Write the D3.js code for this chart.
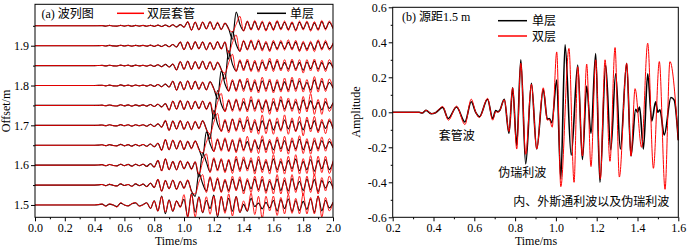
<!DOCTYPE html>
<html>
<head>
<meta charset="utf-8">
<script src="https://cdn.jsdelivr.net/npm/d3@7"></script>
<style>
  body { margin: 0; background: #fff; }
  svg text { font-family: "Liberation Serif", "Times New Roman", "Noto Sans CJK SC", serif; fill: #000; }
</style>
</head>
<body>
<div id="chart"></div>
<script>
// ---- panel (a): wave train, one trace per offset ----
var offsets = [1.5, 1.55, 1.6, 1.65, 1.7, 1.75, 1.8, 1.85, 1.9, 1.95];

// sample times (ms) shared by every trace in panel (a)
var timesA = [0, 0.400, 0.425, 0.450, 0.475, 0.500, 0.525, 0.550, 0.575, 0.600, 0.625, 0.650, 0.675, 0.700,
  0.725, 0.750, 0.775, 0.800, 0.825, 0.850, 0.875, 0.900, 0.925, 0.950, 0.975, 1.000, 1.025,
  1.050, 1.075, 1.100, 1.125, 1.150, 1.175, 1.200, 1.225, 1.250, 1.275, 1.300, 1.325, 1.350,
  1.375, 1.400, 1.425, 1.450, 1.475, 1.500, 1.525, 1.550, 1.575, 1.600, 1.625, 1.650, 1.675,
  1.700, 1.725, 1.750, 1.775, 1.800, 1.825, 1.850, 1.875, 1.900, 1.925, 1.950, 1.975, 2.000];

// single casing (black), amplitude per sample, one row per offset
var singleA = [
  [0, 0, .01, .03, -.035, .03, 0, -.055, .06, 0, -.03, .04, .07, -.035,
   .01, .075, -.12, .14, -.2, .3, -.29, .17, -.21, .13, -.06, .19, -.38,
   .38, -.24, .27, -.26, .15, -.12, .33, -.4, .27, -.21, .22, -.21, .28,
   -.25, .02, -.21, .22, -.05, .06, -.13, .085, -.1, .15, -.2, .18, -.12,
   .2, -.22, .14, -.18, .12, -.15, .2, -.25, .3, -.2, .15, -.1, .08],
  [0, 0, .005, .02, -.02, .025, -.01, -.03, .04, -.015, .02, -.04, .04, -.02,
   .03, -.05, .06, -.08, .18, -.2, .15, -.12, .16, -.14, .12, -.1, .15,
   -.2, -.38, .4, .05, -.2, .25, -.18, .2, -.22, .15, -.18, .2, -.15,
   .18, -.2, .15, -.12, .2, -.15, .18, -.2, .12, -.15, .2, -.18, .15,
   -.2, .22, -.15, .12, -.18, .2, -.15, .18, -.22, .15, -.1, .12, -.08],
  [0, 0, .005, .015, -.02, .02, -.01, -.025, .03, -.02, .025, -.035, .03, -.02,
   .03, -.04, .05, -.06, .15, -.18, .2, -.15, .12, -.15, .14, -.12, .1,
   -.12, .1, -.4, .42, .1, -.22, .2, -.15, .18, -.2, .15, -.18, .2,
   -.15, .18, -.12, .15, -.2, .18, -.15, .12, -.18, .2, -.15, .12, -.18,
   .15, -.12, .2, -.18, .12, -.15, .18, -.2, .15, -.12, .18, -.15, .1],
  [0, 0, .004, .015, -.015, .02, -.01, -.02, .03, -.02, .02, -.03, .025, -.02,
   .025, -.035, .04, -.05, .06, -.16, .18, -.15, .16, -.12, .15, -.14, .12,
   -.1, .14, -.12, -.42, .45, .05, -.2, .18, -.15, .2, -.18, .15, -.2,
   .18, -.15, .12, -.18, .15, -.12, .18, -.15, .12, -.15, .18, -.12, .15,
   -.18, .15, -.12, .2, -.15, .12, -.18, .15, -.12, .15, -.1, .12, -.08],
  [0, 0, .004, .012, -.015, .018, -.01, -.02, .025, -.015, .02, -.025, .02, -.015,
   .02, -.03, .035, -.04, .05, -.06, .15, -.16, .14, -.12, .15, -.13, .12,
   -.14, .12, -.1, .15, -.12, -.45, .5, .05, -.18, .15, -.18, .2, -.15,
   .15, -.12, .18, -.15, .12, -.18, .15, -.12, .18, -.15, .12, -.15, .18,
   -.12, .15, -.18, .12, -.15, .18, -.12, .15, -.18, .12, -.1, .15, -.1],
  [0, 0, .003, .01, -.012, .015, -.01, -.018, .022, -.015, .018, -.022, .018, -.015,
   .018, -.025, .03, -.035, .04, -.05, .06, -.15, .14, -.12, .15, -.13, .14,
   -.12, .13, -.1, .14, -.12, .1, -.45, .5, .05, -.18, .15, -.15, .18,
   -.15, .12, -.15, .18, -.12, .15, -.12, .15, -.18, .12, -.15, .18, -.12,
   .15, -.12, .12, -.15, .18, -.12, .15, -.12, .1, -.15, .12, -.1, .08],
  [0, 0, .003, .01, -.012, .015, -.01, -.015, .02, -.012, .015, -.02, .018, -.012,
   .015, -.02, .025, -.03, .035, -.04, .045, -.05, .14, -.15, .12, -.14, .15,
   -.12, .14, -.12, .1, -.14, .12, -.1, -.45, .5, .05, -.18, .15, -.15,
   .18, -.12, .15, -.15, .12, -.18, .15, -.12, .15, -.18, .12, -.15, .12,
   -.15, .18, -.12, .15, -.12, .1, -.15, .18, -.12, .15, -.12, .1, -.08],
  [0, 0, .003, .008, -.01, .012, -.008, -.012, .018, -.01, .014, -.018, .015, -.01,
   .012, -.018, .022, -.025, .03, -.035, .04, -.045, .05, -.14, .13, -.12, .14,
   -.12, .13, -.1, .14, -.12, .12, -.14, .1, -.12, -.45, .5, .05, -.18,
   .15, -.12, .15, -.15, .12, -.15, .12, -.1, .15, -.12, .15, -.12, .1,
   -.12, .15, -.12, .1, -.15, .12, -.1, .15, -.12, .1, -.12, .1, -.06],
  [0, 0, .002, .008, -.01, .012, -.008, -.012, .015, -.01, .012, -.015, .012, -.01,
   .012, -.015, .018, -.02, .025, -.028, .032, -.035, .04, -.045, .12, -.13, .12,
   -.12, .13, -.1, .12, -.13, .1, -.12, .13, -.1, .12, -.45, .48, .05,
   -.18, .15, -.12, .15, -.12, .15, -.12, .1, -.15, .12, -.1, .12, -.1,
   .12, -.1, .12, -.15, .1, -.12, .1, -.12, .15, -.1, .12, -.1, .06],
  [0, 0, .002, .007, -.01, .012, -.008, -.01, .014, -.01, .012, -.014, .012, -.01,
   .012, -.014, .016, -.018, .022, -.025, .028, -.03, .035, -.038, .04, -.045, .13,
   -.14, .12, -.13, .12, -.1, .13, -.12, .1, -.12, .08, -.1, -.45, .46,
   .05, -.16, .14, -.12, .14, -.12, .12, -.14, .1, -.12, .14, -.1, .12,
   -.12, .1, -.14, .12, -.1, .12, -.14, .1, -.12, .14, -.1, .12, -.08]
];

// double casing (red)
var doubleA = [
  [0, 0, .012, .033, -.045, .035, 0, -.07, .075, 0, -.03, .045, .08, -.045,
   .005, .072, -.11, .14, -.21, .28, -.24, .16, -.21, .14, -.085, .345, -.425,
   .365, -.4, .26, -.25, .275, -.31, .3, -.35, .3, -.28, .37, -.37, .28,
   -.25, .135, -.2, .395, -.32, .29, -.44, .29, -.2, .3, -.35, .25, -.3,
   .35, -.28, .22, -.3, .38, -.3, .25, -.3, .3, -.4, .25, -.2, .1],
  [0, 0, .005, .02, -.025, .03, -.01, -.035, .045, -.015, .02, -.045, .045, -.02,
   .035, -.055, .07, -.09, .2, -.21, .16, -.13, .17, -.15, .13, -.12, .18,
   -.22, -.3, .1, .35, -.25, .28, -.22, .25, -.25, .2, -.25, .3, -.2,
   .28, -.3, .22, -.25, .3, -.22, .3, -.28, .2, -.3, .35, -.3, .25,
   -.32, .35, -.25, .3, -.35, .3, -.25, .35, -.3, .25, -.2, .3, -.15],
  [0, 0, .005, .015, -.02, .025, -.01, -.03, .035, -.02, .025, -.04, .035, -.02,
   .035, -.045, .05, -.07, .17, -.2, .22, -.16, .13, -.16, .15, -.13, .12,
   -.15, .12, -.3, .1, .38, -.25, .25, -.2, .22, -.25, .2, -.28, .3,
   -.22, .28, -.2, .25, -.3, .3, -.25, .2, -.3, .35, -.25, .22, -.3,
   .3, -.22, .35, -.3, .22, -.28, .32, -.35, .3, -.25, .3, -.28, .15],
  [0, 0, .004, .015, -.018, .022, -.01, -.025, .032, -.02, .022, -.035, .03, -.02,
   .03, -.04, .045, -.055, .07, -.18, .2, -.16, .18, -.13, .16, -.15, .14,
   -.12, .15, -.15, -.25, .1, .38, -.22, .22, -.2, .25, -.22, .2, -.25,
   .25, -.2, .3, -.25, .2, -.28, .32, -.25, .2, -.3, .28, -.22, .3,
   -.3, .25, -.2, .32, -.28, .22, -.3, .25, -.2, .28, -.2, .22, -.1],
  [0, 0, .004, .012, -.016, .02, -.01, -.022, .028, -.015, .022, -.028, .022, -.015,
   .022, -.032, .038, -.045, .055, -.065, .17, -.18, .15, -.13, .16, -.14, .13,
   -.15, .14, -.12, .16, -.14, -.28, .1, .4, -.22, .2, -.25, .22, -.2,
   .25, -.22, .3, -.25, .2, -.3, .35, -.28, .22, -.3, .25, -.2, .35,
   -.3, .25, -.22, .3, -.35, .28, -.22, .3, -.25, .2, -.28, .22, -.12],
  [0, 0, .003, .01, -.013, .016, -.01, -.02, .024, -.015, .02, -.024, .02, -.015,
   .02, -.027, .033, -.038, .045, -.055, .065, -.17, .15, -.13, .17, -.14, .15,
   -.13, .15, -.12, .15, -.14, .12, -.3, .1, .4, -.22, .2, -.2, .22,
   -.2, .25, -.22, .3, -.2, .22, -.25, .2, -.3, .25, -.22, .3, -.2,
   .25, -.2, .22, -.28, .3, -.22, .4, -.3, .2, -.3, .25, -.2, .1],
  [0, 0, .003, .01, -.013, .016, -.01, -.016, .022, -.012, .016, -.022, .02, -.012,
   .016, -.022, .027, -.032, .038, -.045, .05, -.055, .15, -.16, .13, -.15, .16,
   -.13, .15, -.13, .12, -.15, .13, -.12, -.28, .1, .4, -.2, .2, -.2,
   .22, -.2, .25, -.22, .2, -.25, .28, -.2, .22, -.25, .2, -.22, .25,
   -.22, .28, -.2, .25, -.22, .2, -.25, .3, -.22, .25, -.2, .22, -.1],
  [0, 0, .003, .008, -.011, .013, -.008, -.013, .02, -.01, .015, -.02, .016, -.01,
   .013, -.02, .024, -.027, .033, -.038, .043, -.05, .055, -.15, .14, -.13, .15,
   -.13, .14, -.12, .15, -.13, .14, -.15, .12, -.14, -.25, .1, .38, -.2,
   .2, -.18, .22, -.2, .18, -.22, .2, -.18, .25, -.2, .22, -.18, .2,
   -.2, .22, -.18, .2, -.25, .2, -.18, .22, -.2, .18, -.2, .2, -.1],
  [0, 0, .002, .008, -.011, .013, -.008, -.013, .016, -.01, .013, -.016, .013, -.01,
   .013, -.016, .02, -.022, .027, -.03, .035, -.038, .043, -.05, .13, -.14, .13,
   -.13, .14, -.11, .13, -.14, .12, -.13, .14, -.12, .13, -.25, .1, .36,
   -.2, .18, -.15, .2, -.15, .2, -.18, .15, -.2, .18, -.15, .18, -.15,
   .2, -.15, .18, -.2, .15, -.18, .15, -.2, .2, -.15, .18, -.15, .1],
  [0, 0, .002, .007, -.011, .013, -.008, -.011, .015, -.01, .013, -.015, .013, -.01,
   .013, -.015, .018, -.02, .024, -.027, .03, -.033, .038, -.04, .043, -.05, .14,
   -.15, .13, -.14, .13, -.11, .14, -.13, .12, -.13, .1, -.12, -.2, .05,
   .32, -.18, .16, -.15, .18, -.15, .16, -.18, .14, -.16, .18, -.14, .16,
   -.16, .14, -.18, .16, -.14, .16, -.18, .14, -.16, .18, -.14, .16, -.1]
];

// ---- panel (b): waveform at 1.5 m source distance, [time ms, amplitude] ----
var singleB = [[0.2, 0], [0.33, 0], [0.345, -0.004], [0.363, 0.011], [0.39, -0.008], [0.41, -0.002],
  [0.445, 0.028], [0.472, -0.035], [0.513, 0.03], [0.554, -0.055], [0.585, 0.06], [0.607, 0.0],
  [0.625, -0.025], [0.665, 0.075], [0.69, -0.035], [0.705, 0.01], [0.715, 0.003], [0.725, 0.012],
  [0.747, 0.075], [0.770, -0.12], [0.788, 0.14], [0.808, -0.19], [0.828, 0.30], [0.852, -0.295],
  [0.880, 0.165], [0.906, -0.21], [0.938, 0.13], [0.958, -0.04], [0.968, -0.035], [0.98, -0.06],
  [1.004, 0.185], [1.024, -0.38], [1.045, 0.385], [1.075, -0.245], [1.107, 0.27], [1.13, -0.27],
  [1.151, 0.15], [1.172, -0.12], [1.195, 0.335], [1.216, -0.40], [1.244, 0.27], [1.269, -0.215],
  [1.293, 0.22], [1.316, -0.21], [1.347, 0.28], [1.368, -0.25], [1.391, 0.017], [1.40, 0.0],
  [1.41, 0.03], [1.429, -0.21], [1.45, 0.22], [1.47, -0.05], [1.489, 0.06], [1.50, 0.0],
  [1.51, 0.015], [1.531, -0.13], [1.564, 0.085], [1.58, 0.07], [1.6, -0.16]];

var doubleB = [[0.2, 0], [0.33, 0], [0.345, -0.004], [0.363, 0.012], [0.39, -0.008], [0.41, -0.002],
  [0.445, 0.033], [0.473, -0.045], [0.513, 0.035], [0.554, -0.07], [0.585, 0.075], [0.607, 0.0],
  [0.625, -0.03], [0.665, 0.08], [0.69, -0.045], [0.705, 0.005], [0.715, 0.0], [0.725, 0.01],
  [0.747, 0.072], [0.770, -0.11], [0.788, 0.14], [0.808, -0.21], [0.828, 0.28], [0.852, -0.24],
  [0.880, 0.16], [0.906, -0.21], [0.938, 0.14], [0.958, -0.045], [0.968, -0.04], [0.982, -0.085],
  [1.004, 0.345], [1.024, -0.425], [1.064, 0.365], [1.089, -0.40], [1.107, 0.26], [1.13, -0.25],
  [1.151, 0.275], [1.172, -0.31], [1.195, 0.30], [1.218, -0.38], [1.241, 0.30], [1.265, -0.28],
  [1.29, 0.37], [1.311, -0.37], [1.347, 0.28], [1.368, -0.25], [1.388, 0.135], [1.42, -0.20],
  [1.45, 0.395], [1.478, -0.32], [1.507, 0.29], [1.535, -0.44], [1.559, 0.29], [1.6, -0.16]];

// tick values
var xTicksA = [0, 0.2, 0.4, 0.6, 0.8, 1.0, 1.2, 1.4, 1.6, 1.8, 2.0];
var xMinorA = [0.1, 0.3, 0.5, 0.7, 0.9, 1.1, 1.3, 1.5, 1.7, 1.9];
var yTicksA = [1.5, 1.6, 1.7, 1.8, 1.9];
var yMinorA = [1.55, 1.65, 1.75, 1.85, 1.95];
var xTicksB = [0.2, 0.4, 0.6, 0.8, 1.0, 1.2, 1.4, 1.6];
var xMinorB = [0.3, 0.5, 0.7, 0.9, 1.1, 1.3, 1.5];
var yTicksB = [-0.6, -0.4, -0.2, 0, 0.2, 0.4, 0.6];
var yMinorB = [-0.5, -0.3, -0.1, 0.1, 0.3, 0.5];

var RED = "#ff0000";
var GAIN = 0.075;   // offset units per amplitude unit in panel (a)

var svg = d3.select("#chart").append("svg")
  .attr("width", 700)
  .attr("height", 249);

var fmt = function(d) { return d.toFixed(1); };

function axes(g, x, y, xt, xm, yt, ym, xfmt) {
  var r = x.range(), b = y.range();
  g.append("g")
    .attr("transform", "translate(0," + b[0] + ")")
    .call(d3.axisBottom(x).tickValues(xm).tickSize(2).tickSizeOuter(0).tickFormat(""));
  g.append("g")
    .attr("transform", "translate(0," + b[0] + ")")
    .call(d3.axisBottom(x).tickValues(xt).tickSize(4).tickSizeOuter(0).tickPadding(2).tickFormat(xfmt));
  g.append("g")
    .attr("transform", "translate(" + r[0] + ",0)")
    .call(d3.axisLeft(y).tickValues(ym).tickSize(2).tickSizeOuter(0).tickFormat(""));
  g.append("g")
    .attr("transform", "translate(" + r[0] + ",0)")
    .call(d3.axisLeft(y).tickValues(yt).tickSize(4).tickSizeOuter(0).tickPadding(2).tickFormat(fmt));
  g.selectAll(".domain").remove();
  g.selectAll(".tick text").style("font-size", "12px");
  g.append("rect")
    .attr("x", r[0]).attr("y", b[1])
    .attr("width", r[1] - r[0]).attr("height", b[0] - b[1])
    .attr("fill", "none").attr("stroke", "#000").attr("stroke-width", 1);
}

// ---------- panel (a) ----------
var xA = d3.scaleLinear().domain([0, 2]).range([35, 333]);
var yA = d3.scaleLinear().domain([1.469, 2.004]).range([217.3, 4.3]);

var ga = svg.append("g");
ga.append("clipPath").attr("id", "clipA")
  .append("rect").attr("x", 35).attr("y", 4.3).attr("width", 298).attr("height", 213);

var traces = ga.append("g").attr("clip-path", "url(#clipA)");

function traceLine(off) {
  return d3.line()
    .x(function(d) { return xA(d[0]); })
    .y(function(d) { return yA(off + d[1] * GAIN); })
    .curve(d3.curveMonotoneX);
}

offsets.forEach(function(off, k) {
  var blk = timesA.map(function(t, i) { return [t, singleA[k][i]]; });
  var red = timesA.map(function(t, i) { return [t, doubleA[k][i]]; });
  traces.append("path").datum(blk)
    .attr("d", traceLine(off))
    .attr("fill", "none").attr("stroke", "#000").attr("stroke-width", 1.15);
  traces.append("path").datum(red)
    .attr("d", traceLine(off))
    .attr("fill", "none").attr("stroke", RED).attr("stroke-width", 0.9);
});

axes(ga, xA, yA, xTicksA, xMinorA, yTicksA, yMinorA, fmt);

ga.append("text").attr("x", 176).attr("y", 245).attr("text-anchor", "middle")
  .style("font-size", "12px").text("Time/ms");
ga.append("text")
  .attr("transform", "translate(10,111) rotate(-90)")
  .attr("text-anchor", "middle").style("font-size", "12px").text("Offset/m");

// legend (a)
ga.append("text").attr("x", 41.5).attr("y", 18).style("font-size", "12px").text("(a) 波列图");
ga.append("line").attr("x1", 117).attr("x2", 144).attr("y1", 13.3).attr("y2", 13.3)
  .attr("stroke", RED).attr("stroke-width", 1.5);
ga.append("text").attr("x", 147).attr("y", 18).style("font-size", "12px").text("双层套管");
ga.append("line").attr("x1", 257).attr("x2", 286).attr("y1", 13.3).attr("y2", 13.3)
  .attr("stroke", "#000").attr("stroke-width", 1.5);
ga.append("text").attr("x", 290).attr("y", 18).style("font-size", "12px").text("单层");

// ---------- panel (b) ----------
var xB = d3.scaleLinear().domain([0.2, 1.6]).range([392.7, 678.3]);
var yB = d3.scaleLinear().domain([-0.6, 0.6]).range([217.3, 7.3]);

var gb = svg.append("g");
var lineB = d3.line()
  .x(function(d) { return xB(d[0]); })
  .y(function(d) { return yB(d[1]); })
  .curve(d3.curveMonotoneX);

gb.append("path").datum(singleB).attr("d", lineB)
  .attr("fill", "none").attr("stroke", "#000").attr("stroke-width", 1.6);
gb.append("path").datum(doubleB).attr("d", lineB)
  .attr("fill", "none").attr("stroke", RED).attr("stroke-width", 1);

axes(gb, xB, yB, xTicksB, xMinorB, yTicksB, yMinorB, fmt);

gb.append("text").attr("x", 536).attr("y", 245).attr("text-anchor", "middle")
  .style("font-size", "12px").text("Time/ms");
gb.append("text")
  .attr("transform", "translate(360,112) rotate(-90)")
  .attr("text-anchor", "middle").style("font-size", "12px").text("Amplitude");

// legend (b)
gb.append("text").attr("x", 402).attr("y", 21).style("font-size", "12px").text("(b) 源距1.5 m");
gb.append("line").attr("x1", 498).attr("x2", 527).attr("y1", 20.7).attr("y2", 20.7)
  .attr("stroke", "#000").attr("stroke-width", 1.5);
gb.append("text").attr("x", 532).attr("y", 25).style("font-size", "12px").text("单层");
gb.append("line").attr("x1", 498).attr("x2", 527).attr("y1", 36).attr("y2", 36)
  .attr("stroke", RED).attr("stroke-width", 1.5);
gb.append("text").attr("x", 532).attr("y", 41).style("font-size", "12px").text("双层");

// annotations
gb.append("text").attr("x", 456.7).attr("y", 139.5).attr("text-anchor", "middle")
  .style("font-size", "12px").text("套管波");
gb.append("text").attr("x", 498.3).attr("y", 177).style("font-size", "12px").text("伪瑞利波");
gb.append("text").attr("x", 513.3).attr("y", 206).style("font-size", "12px").text("内、外斯通利波以及伪瑞利波");
</script>
</body>
</html>
